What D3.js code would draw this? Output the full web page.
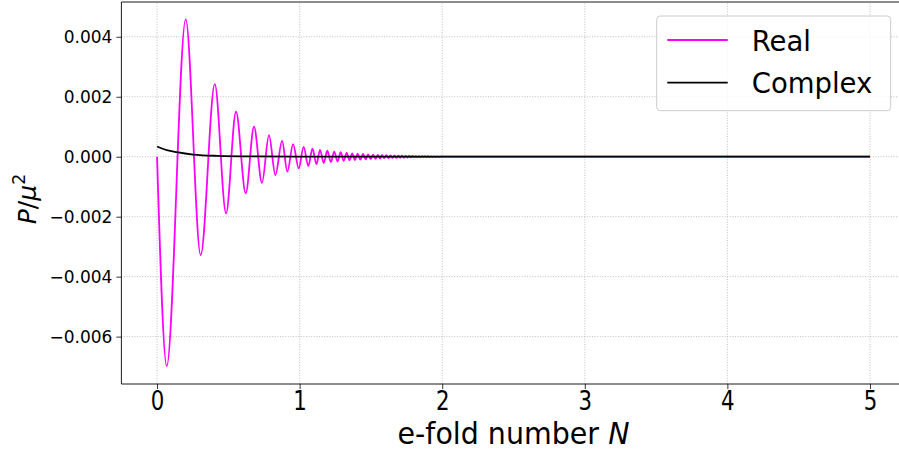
<!DOCTYPE html>
<html>
<head>
<meta charset="utf-8">
<script src="https://cdn.jsdelivr.net/npm/d3@7"></script>
<style>
  html, body { margin: 0; padding: 0; background: #fff; }
  svg { display: block; font-family: "DejaVu Sans", sans-serif; }
</style>
</head>
<body>
<svg id="chart" width="899" height="452"></svg>
<script>
// ---- data ----
const realN = [0, 0.068, 0.201, 0.306, 0.405, 0.484, 0.554, 0.622, 0.680, 0.736, 0.785, 0.830, 0.877, 0.914, 0.954, 0.994,
  1.028, 1.061, 1.090, 1.118, 1.143, 1.169, 1.194, 1.219, 1.243, 1.266, 1.288, 1.309, 1.330, 1.350, 1.369, 1.388,
  1.407, 1.426, 1.445, 1.463, 1.480, 1.498, 1.515, 1.532, 1.548, 1.563, 1.578, 1.593, 1.608, 1.623, 1.637, 1.652,
  1.666, 1.679, 1.692, 1.705, 1.718, 1.731, 1.744, 1.756, 1.768, 1.780, 1.791, 1.803, 1.815, 1.826, 1.837, 1.848,
  1.859, 1.870, 1.880, 1.890, 1.901, 1.912, 1.922, 1.932, 1.943, 1.954, 1.964, 1.975, 1.985, 2.0, 5.0];
const realP = [0, -0.00698, 0.00458, -0.00328, 0.00242, -0.00189, 0.00150, -0.00122, 0.00100, -0.00087, 0.00072, -0.00061, 0.00053, -0.00050, 0.00042, -0.00039,
  0.00033, -0.00031, 0.00027, -0.00025, 0.00023, -0.00021, 0.00020, -0.00018, 0.00017, -0.00016, 0.00015, -0.00014, 0.00013, -0.00012, 0.00011, -0.00011,
  0.00010, -0.00010, 0.00009, -0.00009, 0.00008, -0.00008, 0.00007, -0.00007, 0.00006, -0.00006, 0.00005, -0.00005, 0.00005, -0.00005, 0.00004, -0.00004,
  0.00004, -0.00004, 0.000035, -0.000035, 0.000035, -0.00003, 0.00003, -0.00003, 0.00003, -0.000025, 0.000025, -0.000025, 0.00002, -0.00002, 0.00002, -0.00002,
  0.00002, -0.000015, 0.000015, -0.000015, 0.000015, -0.00001, 0.00001, -0.00001, 0.00001, -0.00001, 0.00001, -0.00001, 0.000005, 0, 0];
const complexN = [0, 0.068, 0.138, 0.255, 0.42, 0.7, 1.0, 5.0];
const complexP = [0.00034, 0.00022, 0.00015, 0.00007, 0.00003, 0.00001, 0.000004, 0];
const xTicks = [0, 1, 2, 3, 4, 5];
const yTicks = [-0.006, -0.004, -0.002, 0.000, 0.002, 0.004];
const seriesNames = ["Real", "Complex"];
const seriesColors = ["#ff00ff", "#000000"];

// ---- layout ----
const svg = d3.select("#chart");
const x = d3.scaleLinear().domain([-0.25, 5.25]).range([121.4, 905.6]);
const y = d3.scaleLinear().domain([-0.00758, 0.00516]).range([384, 2]);

// grid
const grid = svg.append("g");
grid.selectAll("line.gx").data(xTicks).join("line")
  .attr("x1", d => x(d)).attr("x2", d => x(d)).attr("y1", y.range()[0]).attr("y2", y.range()[1])
  .attr("stroke", "#b0b0b0").attr("stroke-width", 0.8).attr("stroke-dasharray", "1,1.6");
grid.selectAll("line.gy").data(yTicks).join("line")
  .attr("y1", d => y(d)).attr("y2", d => y(d)).attr("x1", x.range()[0]).attr("x2", x.range()[1])
  .attr("stroke", "#b0b0b0").attr("stroke-width", 0.8).attr("stroke-dasharray", "1,1.6");

// lines
svg.append("clipPath").attr("id", "plotclip").append("rect")
  .attr("x", x.range()[0]).attr("y", y.range()[1])
  .attr("width", x.range()[1] - x.range()[0]).attr("height", y.range()[0] - y.range()[1]);

const line = d3.line().x(d => x(d[0])).y(d => y(d[1])).curve(d3.curveMonotoneX);
const g = svg.append("g").attr("clip-path", "url(#plotclip)");
g.append("path").datum(realN.map((n, i) => [n, realP[i]]))
  .attr("d", line).attr("fill", "none").attr("stroke", seriesColors[0]).attr("stroke-width", 1.8)
  .attr("stroke-linejoin", "round");
g.append("path").datum(complexN.map((n, i) => [n, complexP[i]]))
  .attr("d", line).attr("fill", "none").attr("stroke", seriesColors[1]).attr("stroke-width", 1.8)
  .attr("stroke-linejoin", "round");

// axes
const xAxis = svg.append("g").attr("transform", `translate(0,${y.range()[0]})`)
  .call(d3.axisBottom(x).tickValues(xTicks).tickFormat(d3.format("d")).tickSizeOuter(0).tickSize(5).tickPadding(3));
xAxis.select(".domain").remove();
xAxis.selectAll("text").attr("font-size", 26).attr("fill", "#000").attr("font-family", "DejaVu Sans")
  .attr("x", 0).attr("transform", "scale(0.82,1)");
xAxis.selectAll(".tick line").attr("stroke", "#000").attr("stroke-width", 0.8);

const yAxis = svg.append("g").attr("transform", `translate(${x.range()[0]},0)`)
  .call(d3.axisLeft(y).tickValues(yTicks).tickFormat(d => d3.format(".3f")(d).replace("-", "\u2212")).tickSizeOuter(0).tickSize(5).tickPadding(4));
yAxis.select(".domain").remove();
yAxis.selectAll("text").attr("font-size", 17).attr("fill", "#000").attr("font-family", "DejaVu Sans");
yAxis.selectAll(".tick line").attr("stroke", "#000").attr("stroke-width", 0.8);

// spines
svg.append("line").attr("x1", x.range()[0]).attr("x2", x.range()[0]).attr("y1", y.range()[0]).attr("y2", y.range()[1])
  .attr("stroke", "#000").attr("stroke-width", 0.9);
svg.append("line").attr("x1", x.range()[0]).attr("x2", x.range()[1]).attr("y1", y.range()[0]).attr("y2", y.range()[0])
  .attr("stroke", "#000").attr("stroke-width", 0.9);
svg.append("line").attr("x1", x.range()[0]).attr("x2", x.range()[1]).attr("y1", y.range()[1]).attr("y2", y.range()[1])
  .attr("stroke", "#000").attr("stroke-width", 0.9);

// axis labels
const xl = svg.append("text").attr("transform", `translate(513.5,444) scale(0.95,1)`)
  .attr("text-anchor", "middle").attr("font-size", 30).attr("fill", "#000");
xl.append("tspan").text("e-fold number ");
xl.append("tspan").attr("font-style", "italic").text("N");

const yl = svg.append("text").attr("transform", "translate(36,199) rotate(-90)")
  .attr("text-anchor", "middle").attr("font-size", 25).attr("fill", "#000");
yl.append("tspan").attr("font-style", "italic").text("P");
yl.append("tspan").text("/");
yl.append("tspan").attr("font-style", "italic").text("\u03bc");
yl.append("tspan").attr("font-size", 17.5).attr("dy", -11).text("2");

// legend
const lg = svg.append("g");
lg.append("rect").attr("x", 656.7).attr("y", 16).attr("width", 234).attr("height", 94.7)
  .attr("rx", 3.5).attr("fill", "#fff").attr("fill-opacity", 0.8).attr("stroke", "#cccccc").attr("stroke-width", 1);
seriesNames.forEach((name, i) => {
  const yy = 40 + i * 42.7;
  lg.append("line").attr("x1", 667.3).attr("x2", 727.7).attr("y1", yy).attr("y2", yy)
    .attr("stroke", seriesColors[i]).attr("stroke-width", 1.8);
  lg.append("text").attr("x", 751.7).attr("y", yy + 10.5).attr("font-size", 27.5).attr("fill", "#000").text(name);
});
</script>
</body>
</html>
